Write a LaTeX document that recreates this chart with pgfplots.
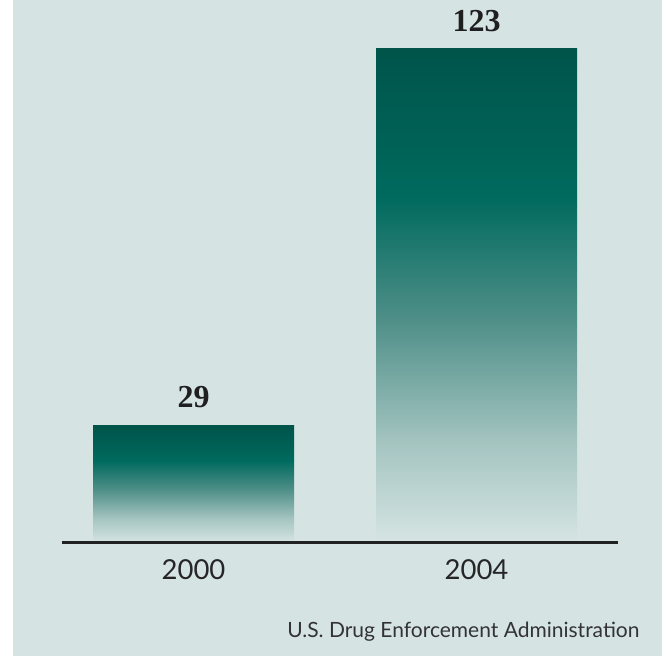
\documentclass[border=0pt]{standalone}
\usepackage{pgfplots}
\pgfplotsset{compat=1.18}
\usepackage{fontspec}
\setmainfont{Lato}
\newfontfamily\numfont{Liberation Serif}
\definecolor{bg}{HTML}{D5E4E3}
\definecolor{c1}{HTML}{A5C5C1}
\definecolor{c2}{HTML}{4F8F88}
\definecolor{c3}{HTML}{006A5E}
\definecolor{c4}{HTML}{00544A}
\pgfdeclareverticalshading{barshade}{100bp}{color(0bp)=(bg); color(25bp)=(bg); color(35bp)=(c1); color(47.5bp)=(c2); color(60bp)=(c3); color(75bp)=(c4); color(100bp)=(c4)}
\begin{document}
\begin{tikzpicture}
\path (0pt,0pt) rectangle (662pt,-656pt);
\fill[bg] (13pt,0pt) rectangle (662pt,-656pt);
\begin{axis}[
  at={(62pt,-542pt)}, anchor=south west,
  scale only axis, width=556pt, height=542pt,
  xmin=-0.4647, xmax=1.5, ymin=0, ymax=135.2,
  axis x line*=bottom, axis y line=none,
  axis line style={line width=3pt, color=black!87, -},
  axis on top,
  xtick={0,1}, xticklabels={2000,2004}, major tick length=0pt,
  xticklabel style={font=\fontsize{27.5}{30}\selectfont, text=black!85, yshift=-14pt},
  ytick=\empty,
  bar width=201pt,
  /pgf/number format/assume math mode=true,
  nodes near coords,
  nodes near coords style={font=\numfont\bfseries\fontsize{32}{34}\selectfont, text=black!88, yshift=14pt},
  clip=false,
]
\addplot[ybar, draw=none, shading=barshade] coordinates {(0,29)};
\addplot[ybar, draw=none, shading=barshade] coordinates {(1,123)};
\end{axis}
\node[anchor=base east, font=\fontsize{21}{24}\selectfont, text=black!80] at (643pt,-637pt) {U.S. Drug Enforcement Administration};
\end{tikzpicture}
\end{document}
